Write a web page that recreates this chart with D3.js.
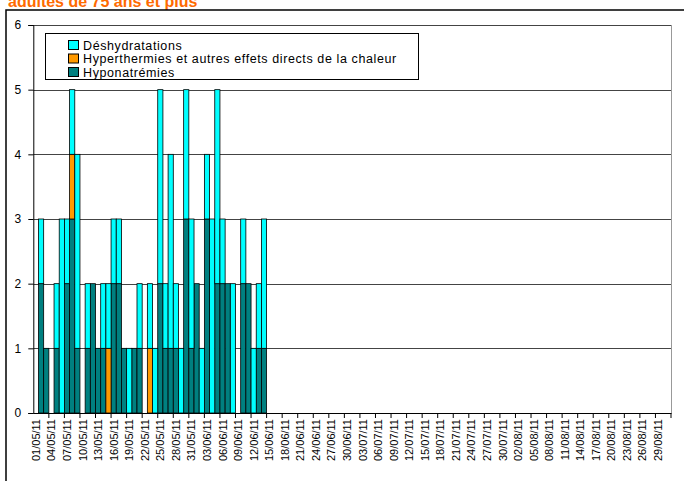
<!DOCTYPE html>
<html><head><meta charset="utf-8">
<script src="https://cdn.jsdelivr.net/npm/d3@7"></script>
<style>body{margin:0;background:#fff}svg{display:block;font-family:"Liberation Sans",Arial,sans-serif}</style>
</head><body>
<svg id="c" width="684" height="481"></svg>
<script>
// Daily counts from 01/05/11 (only first 45 days reported)
const hyponatremies = [0,2,1,0,1,0,2,3,1,0,1,2,1,1,0,2,2,1,0,1,1,0,0,0,2,1,1,1,0,3,1,2,0,3,0,2,2,2,0,0,2,2,0,1,1];
const hyperthermies = [0,0,0,0,0,0,0,1,0,0,0,0,0,0,1,0,0,0,0,0,0,0,1,0,0,0,0,0,0,0,0,0,0,0,0,0,0,0,0,0,0,0,0,0,0];
const deshydratations = [0,1,0,0,1,3,1,1,3,0,1,0,0,1,1,1,1,0,1,0,1,0,1,1,3,1,3,1,1,2,2,0,1,1,3,3,1,0,2,0,1,0,1,1,2];
const seriesNames = ["Déshydratations","Hyperthermies et autres effets directs de la chaleur","Hyponatrémies"];
const seriesColors = ["#00FFFF","#FF9900","#008080"];
const yTicks = [0,1,2,3,4,5,6];
const titleText = "adultes de 75 ans et plus";
const fmt = d3.timeFormat("%d/%m/%y");
const categories = d3.timeDay.range(new Date(2011,4,1), new Date(2011,8,1)).map(fmt);
const tickLabels = categories.filter((d,i)=>i%3===0);

const svg = d3.select("#c");
const L=33.3, R=671, T=25, B=413;
const x = d3.scaleBand().domain(categories).range([L,R]).padding(0);
const y = d3.scaleLinear().domain([0,6]).range([B,T]);

// title (partly cut at the top, as in the source)
svg.append("text").attr("x",8).attr("y",7).attr("fill","#FF6A00")
  .attr("font-weight","bold").attr("font-size",16).text(titleText);
// outer frame
svg.append("rect").attr("x",6).attr("y",10).attr("width",700).attr("height",500)
  .attr("fill","none").attr("stroke","#000").attr("stroke-width",1.5);

// gridlines
svg.append("g").selectAll("line").data(yTicks.filter(d=>d>0)).join("line")
  .attr("x1",L).attr("x2",R).attr("y1",d=>Math.round(y(d))+0.5).attr("y2",d=>Math.round(y(d))+0.5)
  .attr("stroke","#444").attr("stroke-width",1);
// right border of plot
svg.append("line").attr("x1",R+0.5).attr("x2",R+0.5).attr("y1",T).attr("y2",B).attr("stroke","#999");

// stacked bars
const rows = hyponatremies.map((v,i)=>({cat:categories[i], hypo:v, hyper:hyperthermies[i], desh:deshydratations[i]}));
const stack = d3.stack().keys(["hypo","hyper","desh"])(rows);
const colorByKey = {hypo:seriesColors[2], hyper:seriesColors[1], desh:seriesColors[0]};
svg.append("g").selectAll("g").data(stack).join("g").attr("fill",d=>colorByKey[d.key])
  .selectAll("rect").data(d=>d.filter(s=>s[1]>s[0])).join("rect")
  .attr("x",d=>x(d.data.cat)).attr("width",x.bandwidth())
  .attr("y",d=>y(d[1])).attr("height",d=>y(d[0])-y(d[1]))
  .attr("stroke","#000").attr("stroke-width",0.8);

// y axis
const ya = svg.append("g").attr("transform",`translate(${L},0)`)
  .call(d3.axisLeft(y).tickValues(yTicks).tickSize(5).tickFormat(d3.format("d")));
ya.select(".domain").attr("stroke","#000");
ya.selectAll("text").attr("font-size",12).attr("fill","#000").attr("font-family","Liberation Sans, Arial, sans-serif").attr("dx",-4);

// x axis
const xa = svg.append("g").attr("transform",`translate(0,${B})`)
  .call(d3.axisBottom(x).tickValues([]).tickSizeOuter(0));
xa.select(".domain").attr("stroke","#000");
// boundary ticks every 3 categories
const bounds = categories.filter((d,i)=>i%3===0).map(d=>x(d)).concat([R]);
svg.append("g").selectAll("line").data(bounds.slice(1)).join("line")
  .attr("x1",d=>d).attr("x2",d=>d).attr("y1",B).attr("y2",B+5).attr("stroke","#000");
svg.append("g").selectAll("text").data(tickLabels).join("text")
  .attr("transform",d=>`translate(${x(d)+x.bandwidth()/2+4},${B+6}) rotate(-90)`)
  .attr("text-anchor","end").attr("font-size",11).text(d=>d);

// legend
const lg = svg.append("g");
lg.append("rect").attr("x",45.5).attr("y",33.5).attr("width",373).attr("height",46)
  .attr("fill","#fff").attr("stroke","#000");
seriesNames.forEach((n,i)=>{
  const cy = 45 + i*13.5;
  lg.append("rect").attr("x",68.5).attr("y",cy-4.5).attr("width",10).attr("height",9)
    .attr("fill",seriesColors[i]).attr("stroke","#000");
  lg.append("text").attr("x",83).attr("y",cy+4.5).attr("font-size",12.5)
    .attr("letter-spacing",0.6).text(n);
});
</script>
</body></html>
